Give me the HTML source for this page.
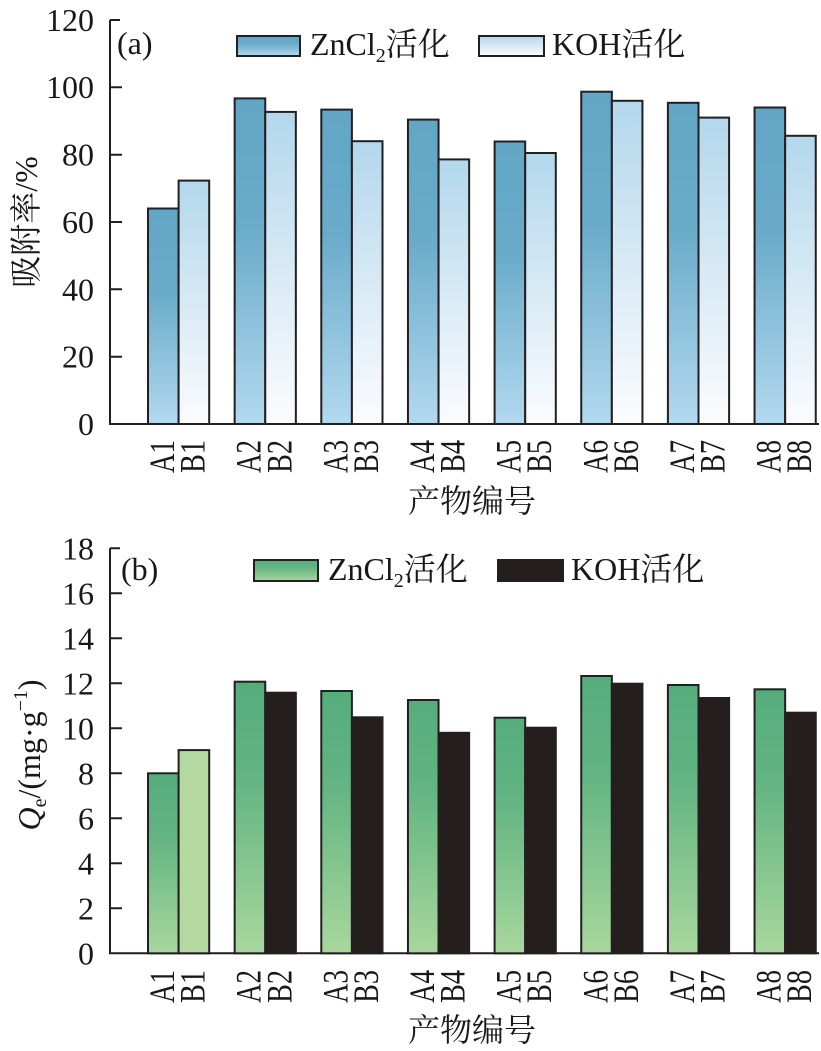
<!DOCTYPE html>
<html><head><meta charset="utf-8"><style>
html,body{margin:0;padding:0;background:#fff;}
svg{display:block;}
text{font-family:"Liberation Serif","Noto Serif CJK SC",serif;fill:#1a1718;}
.cjk{font-family:"Liberation Serif","Noto Serif CJK SC",serif;}
</style></head><body>
<svg width="821" height="1051" viewBox="0 0 821 1051" xmlns="http://www.w3.org/2000/svg">
<defs>
<linearGradient id="ga" x1="0" y1="0" x2="0" y2="1"><stop offset="0" stop-color="#62a5c4"/><stop offset="0.4" stop-color="#6aabca"/><stop offset="1" stop-color="#b2d9ef"/></linearGradient>
<linearGradient id="gb" x1="0" y1="0" x2="0" y2="1"><stop offset="0" stop-color="#b3d7ec"/><stop offset="1" stop-color="#fbfcfe"/></linearGradient>
<linearGradient id="gga" x1="0" y1="0" x2="0" y2="1"><stop offset="0" stop-color="#56ad7c"/><stop offset="0.35" stop-color="#62b482"/><stop offset="1" stop-color="#a8d79d"/></linearGradient>
</defs>

<!-- ===== Panel (a) ===== -->
<g stroke="#231f20" stroke-width="2" fill="none">
<path d="M110,20 V424 H819"/>
<path d="M110,20 h10 M110,87.3 h12 M110,154.7 h12 M110,222 h12 M110,289.3 h12 M110,356.7 h12"/>
</g>
<g font-size="32" text-anchor="end">
<text x="94" y="31">120</text>
<text x="94" y="98">100</text>
<text x="94" y="165.7">80</text>
<text x="94" y="233">60</text>
<text x="94" y="300.3">40</text>
<text x="94" y="367.7">20</text>
<text x="94" y="435">0</text>
</g>
<g stroke="#231f20" stroke-width="2">
<rect x="148" y="208.5" width="30.6" height="215.5" fill="url(#ga)"/>
<rect x="178.6" y="180.6" width="30.6" height="243.4" fill="url(#gb)"/>
<rect x="234.65" y="98.4" width="30.6" height="325.6" fill="url(#ga)"/>
<rect x="265.25" y="111.9" width="30.6" height="312.1" fill="url(#gb)"/>
<rect x="321.3" y="109.6" width="30.6" height="314.4" fill="url(#ga)"/>
<rect x="351.9" y="141.2" width="30.6" height="282.8" fill="url(#gb)"/>
<rect x="407.95" y="119.6" width="30.6" height="304.4" fill="url(#ga)"/>
<rect x="438.55" y="159.4" width="30.6" height="264.6" fill="url(#gb)"/>
<rect x="494.6" y="141.5" width="30.6" height="282.5" fill="url(#ga)"/>
<rect x="525.2" y="153" width="30.6" height="271" fill="url(#gb)"/>
<rect x="581.25" y="91.7" width="30.6" height="332.3" fill="url(#ga)"/>
<rect x="611.85" y="100.8" width="30.6" height="323.2" fill="url(#gb)"/>
<rect x="667.9" y="102.8" width="30.6" height="321.2" fill="url(#ga)"/>
<rect x="698.5" y="117.6" width="30.6" height="306.4" fill="url(#gb)"/>
<rect x="754.55" y="107.5" width="30.6" height="316.5" fill="url(#ga)"/>
<rect x="785.15" y="135.8" width="30.6" height="288.2" fill="url(#gb)"/>
</g>
<!-- legend a -->
<rect x="237" y="36" width="63" height="20" fill="url(#ga)" stroke="#231f20" stroke-width="2"/>
<text x="310" y="55" font-size="32">ZnCl<tspan font-size="20" dy="7">2</tspan><tspan dy="-7" class="cjk">活化</tspan></text>
<rect x="479" y="36" width="65" height="20" fill="url(#gb)" stroke="#231f20" stroke-width="2"/>
<text x="552" y="55" font-size="32">KOH<tspan class="cjk">活化</tspan></text>
<text x="117" y="54" font-size="32">(a)</text>
<!-- x labels a -->
<g font-size="36" text-anchor="end">
<text transform="translate(174,440) rotate(-90)" textLength="33" lengthAdjust="spacingAndGlyphs">A1</text>
<text transform="translate(204.6,440) rotate(-90)" textLength="33" lengthAdjust="spacingAndGlyphs">B1</text>
<text transform="translate(260.65,440) rotate(-90)" textLength="33" lengthAdjust="spacingAndGlyphs">A2</text>
<text transform="translate(291.25,440) rotate(-90)" textLength="33" lengthAdjust="spacingAndGlyphs">B2</text>
<text transform="translate(347.3,440) rotate(-90)" textLength="33" lengthAdjust="spacingAndGlyphs">A3</text>
<text transform="translate(377.9,440) rotate(-90)" textLength="33" lengthAdjust="spacingAndGlyphs">B3</text>
<text transform="translate(433.95,440) rotate(-90)" textLength="33" lengthAdjust="spacingAndGlyphs">A4</text>
<text transform="translate(464.55,440) rotate(-90)" textLength="33" lengthAdjust="spacingAndGlyphs">B4</text>
<text transform="translate(520.6,440) rotate(-90)" textLength="33" lengthAdjust="spacingAndGlyphs">A5</text>
<text transform="translate(551.2,440) rotate(-90)" textLength="33" lengthAdjust="spacingAndGlyphs">B5</text>
<text transform="translate(607.25,440) rotate(-90)" textLength="33" lengthAdjust="spacingAndGlyphs">A6</text>
<text transform="translate(637.85,440) rotate(-90)" textLength="33" lengthAdjust="spacingAndGlyphs">B6</text>
<text transform="translate(693.9,440) rotate(-90)" textLength="33" lengthAdjust="spacingAndGlyphs">A7</text>
<text transform="translate(724.5,440) rotate(-90)" textLength="33" lengthAdjust="spacingAndGlyphs">B7</text>
<text transform="translate(780.55,440) rotate(-90)" textLength="33" lengthAdjust="spacingAndGlyphs">A8</text>
<text transform="translate(811.15,440) rotate(-90)" textLength="33" lengthAdjust="spacingAndGlyphs">B8</text>
</g>
<text x="472" y="512" font-size="32" text-anchor="middle" class="cjk">产物编号</text>
<text transform="translate(26,222) rotate(-90)" font-size="32" text-anchor="middle" dominant-baseline="central" class="cjk">吸附率/%</text>

<!-- ===== Panel (b) ===== -->
<g stroke="#231f20" stroke-width="2" fill="none">
<path d="M110,548.3 V953.3 H819"/>
<path d="M110,548.3 h10 M110,593.3 h12 M110,638.3 h12 M110,683.3 h12 M110,728.3 h12 M110,773.3 h12 M110,818.3 h12 M110,863.3 h12 M110,908.3 h12"/>
</g>
<g font-size="32" text-anchor="end">
<text x="94" y="559.3">18</text>
<text x="94" y="604.3">16</text>
<text x="94" y="649.3">14</text>
<text x="94" y="694.3">12</text>
<text x="94" y="739.3">10</text>
<text x="94" y="784.3">8</text>
<text x="94" y="829.3">6</text>
<text x="94" y="874.3">4</text>
<text x="94" y="919.3">2</text>
<text x="94" y="964.3">0</text>
</g>
<g stroke="#231f20" stroke-width="2">
<rect x="148" y="773.3" width="30.6" height="180" fill="url(#gga)"/>
<rect x="178.6" y="750.1" width="30.6" height="203.2" fill="#b3d9a0"/>
<rect x="234.65" y="681.7" width="30.6" height="271.6" fill="url(#gga)"/>
<rect x="265.25" y="692.7" width="30.6" height="260.6" fill="#241f1c"/>
<rect x="321.3" y="691" width="30.6" height="262.3" fill="url(#gga)"/>
<rect x="351.9" y="717.3" width="30.6" height="236" fill="#241f1c"/>
<rect x="407.95" y="700" width="30.6" height="253.3" fill="url(#gga)"/>
<rect x="438.55" y="732.8" width="30.6" height="220.5" fill="#241f1c"/>
<rect x="494.6" y="717.7" width="30.6" height="235.6" fill="url(#gga)"/>
<rect x="525.2" y="727.7" width="30.6" height="225.6" fill="#241f1c"/>
<rect x="581.25" y="676" width="30.6" height="277.3" fill="url(#gga)"/>
<rect x="611.85" y="683.7" width="30.6" height="269.6" fill="#241f1c"/>
<rect x="667.9" y="685" width="30.6" height="268.3" fill="url(#gga)"/>
<rect x="698.5" y="698" width="30.6" height="255.3" fill="#241f1c"/>
<rect x="754.55" y="689.3" width="30.6" height="264" fill="url(#gga)"/>
<rect x="785.15" y="712.7" width="30.6" height="240.6" fill="#241f1c"/>
</g>
<!-- legend b -->
<rect x="254" y="560" width="64" height="21" fill="url(#gga)" stroke="#231f20" stroke-width="2"/>
<text x="328" y="580" font-size="32">ZnCl<tspan font-size="20" dy="7">2</tspan><tspan dy="-7" class="cjk">活化</tspan></text>
<rect x="498" y="560" width="65" height="21" fill="#241f1c" stroke="#231f20" stroke-width="2"/>
<text x="571" y="580" font-size="32">KOH<tspan class="cjk">活化</tspan></text>
<text x="121" y="580" font-size="32">(b)</text>
<!-- x labels b -->
<g font-size="36" text-anchor="end">
<text transform="translate(174,970) rotate(-90)" textLength="33" lengthAdjust="spacingAndGlyphs">A1</text>
<text transform="translate(204.6,970) rotate(-90)" textLength="33" lengthAdjust="spacingAndGlyphs">B1</text>
<text transform="translate(260.65,970) rotate(-90)" textLength="33" lengthAdjust="spacingAndGlyphs">A2</text>
<text transform="translate(291.25,970) rotate(-90)" textLength="33" lengthAdjust="spacingAndGlyphs">B2</text>
<text transform="translate(347.3,970) rotate(-90)" textLength="33" lengthAdjust="spacingAndGlyphs">A3</text>
<text transform="translate(377.9,970) rotate(-90)" textLength="33" lengthAdjust="spacingAndGlyphs">B3</text>
<text transform="translate(433.95,970) rotate(-90)" textLength="33" lengthAdjust="spacingAndGlyphs">A4</text>
<text transform="translate(464.55,970) rotate(-90)" textLength="33" lengthAdjust="spacingAndGlyphs">B4</text>
<text transform="translate(520.6,970) rotate(-90)" textLength="33" lengthAdjust="spacingAndGlyphs">A5</text>
<text transform="translate(551.2,970) rotate(-90)" textLength="33" lengthAdjust="spacingAndGlyphs">B5</text>
<text transform="translate(607.25,970) rotate(-90)" textLength="33" lengthAdjust="spacingAndGlyphs">A6</text>
<text transform="translate(637.85,970) rotate(-90)" textLength="33" lengthAdjust="spacingAndGlyphs">B6</text>
<text transform="translate(693.9,970) rotate(-90)" textLength="33" lengthAdjust="spacingAndGlyphs">A7</text>
<text transform="translate(724.5,970) rotate(-90)" textLength="33" lengthAdjust="spacingAndGlyphs">B7</text>
<text transform="translate(780.55,970) rotate(-90)" textLength="33" lengthAdjust="spacingAndGlyphs">A8</text>
<text transform="translate(811.15,970) rotate(-90)" textLength="33" lengthAdjust="spacingAndGlyphs">B8</text>
</g>
<text x="472" y="1041" font-size="32" text-anchor="middle" class="cjk">产物编号</text>
<text transform="translate(40,755) rotate(-90)" font-size="32" text-anchor="middle"><tspan font-style="italic">Q</tspan><tspan font-size="20" dy="6">e</tspan><tspan dy="-6">/(mg·g</tspan><tspan font-size="20" dy="-13">−1</tspan><tspan dy="13">)</tspan></text>
</svg>
</body></html>
